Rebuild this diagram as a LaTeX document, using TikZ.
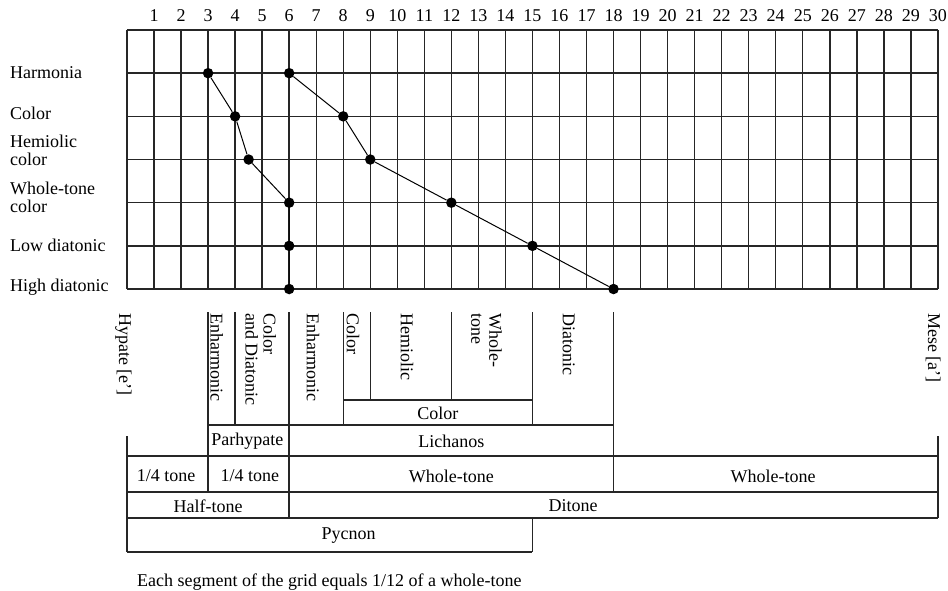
\documentclass[tikz,border=0pt]{standalone}
\usepackage{fontspec}
\setmainfont{Liberation Serif}
\begin{document}
\begin{tikzpicture}[x=27.03pt, y=-1pt,
    gridline/.style={line width=1.4pt, black!85},
    link/.style={line width=1pt},
    dot/.style={circle, fill, inner sep=0pt, minimum size=10.5pt},
    txt/.style={font=\fontsize{18}{18}\selectfont, inner sep=0pt},
    rowlabel/.style={txt, anchor=west, align=left},
    vlabel/.style={txt, rotate=-90, anchor=west, align=left}]
    \useasboundingbox (-4.698,0) rectangle (30.373,590);
    % grid and column numbers
    \foreach \k in {0,...,30}
        \draw[gridline] (\k,30) -- (\k,289);
    \foreach \i in {0,...,6}
        \draw[gridline] (0,{30+43.17*\i}) -- (30,{30+43.17*\i});
    \foreach \k in {1,...,30}
        \node[txt] (num\k) at (\k,15.5) {\k};
    % genera
    \node[rowlabel] (harmlab) at (-4.33,73) {Harmonia};
    \node[rowlabel] (collab) at (-4.33,113) {Color};
    \node[rowlabel] (hemlab) at (-4.33,150) {Hemiolic\\color};
    \node[rowlabel] (wtlab) at (-4.33,197) {Whole-tone\\color};
    \node[rowlabel] (lowlab) at (-4.33,245) {Low diatonic};
    \node[rowlabel] (highlab) at (-4.33,287) {High diatonic};
    \foreach \nm/\xa/\xb [count=\i] in {harm/3/6, col/4/8, hem/4.5/9, wt/6/12, low/6/15, high/6/18} {
        \node[dot] (\nm L) at (\xa,{30+43.17*\i}) {};
        \node[dot] (\nm R) at (\xb,{30+43.17*\i}) {};
    }
    \draw[link] (harmL) -- (colL) -- (hemL) -- (wtL) -- (lowL) -- (highL);
    \draw[link] (harmR) -- (colR) -- (hemR) -- (wtR) -- (lowR) -- (highR);
    % notes
    \node[vlabel] (hypate) at (-0.13,313) {Hypate [e']};
    \node[vlabel] (enh1) at (3.32,313) {Enharmonic};
    \node[vlabel] (coldia) at (4.95,313) {Color\\and Diatonic};
    \node[vlabel] (enh2) at (6.88,313) {Enharmonic};
    \node[vlabel] (colv) at (8.36,313) {Color};
    \node[vlabel] (hemv) at (10.36,313) {Hemiolic};
    \node[vlabel] (wtv) at (13.3,313) {Whole-\\tone};
    \node[vlabel] (diav) at (16.34,313) {Diatonic};
    \node[vlabel] (mese) at (29.82,313) {Mese [a']};
    % table
    \draw[gridline] (3,312) -- (3,492);
    \draw[gridline] (4,312) -- (4,425);
    \draw[gridline] (6,312) -- (6,518);
    \draw[gridline] (8,312) -- (8,425);
    \draw[gridline] (9,312) -- (9,400);
    \draw[gridline] (12,312) -- (12,400);
    \draw[gridline] (15,312) -- (15,425);
    \draw[gridline] (18,312) -- (18,492);
    \draw[gridline] (0,436) -- (0,552);
    \draw[gridline] (30,436) -- (30,518);
    \draw[gridline] (15,518) -- (15,552);
    \draw[gridline] (8,400) -- (15,400);
    \draw[gridline] (3,425) -- (18,425);
    \draw[gridline] (0,456) -- (30,456);
    \draw[gridline] (0,492) -- (30,492);
    \draw[gridline] (0,518) -- (30,518);
    \draw[gridline] (0,552) -- (15,552);
    \node[txt] (colbox) at (11.5,413) {Color};
    \node[txt] (parhyp) at (4.45,441) {Parhypate};
    \node[txt] (lich) at (12,441) {Lichanos};
    \node[txt] (qt1) at (1.45,476) {1/4 tone};
    \node[txt] (qt2) at (4.55,476) {1/4 tone};
    \node[txt] (wt1) at (12,476) {Whole-tone};
    \node[txt] (wt2) at (23.9,476) {Whole-tone};
    \node[txt] (half) at (3,506) {Half-tone};
    \node[txt] (dit) at (16.5,506) {Ditone};
    \node[txt] (pyc) at (8.2,536) {Pycnon};
    \node[txt, anchor=west] (note) at (0.37,582) {Each segment of the grid equals 1/12 of a whole-tone};
\end{tikzpicture}
\end{document}
